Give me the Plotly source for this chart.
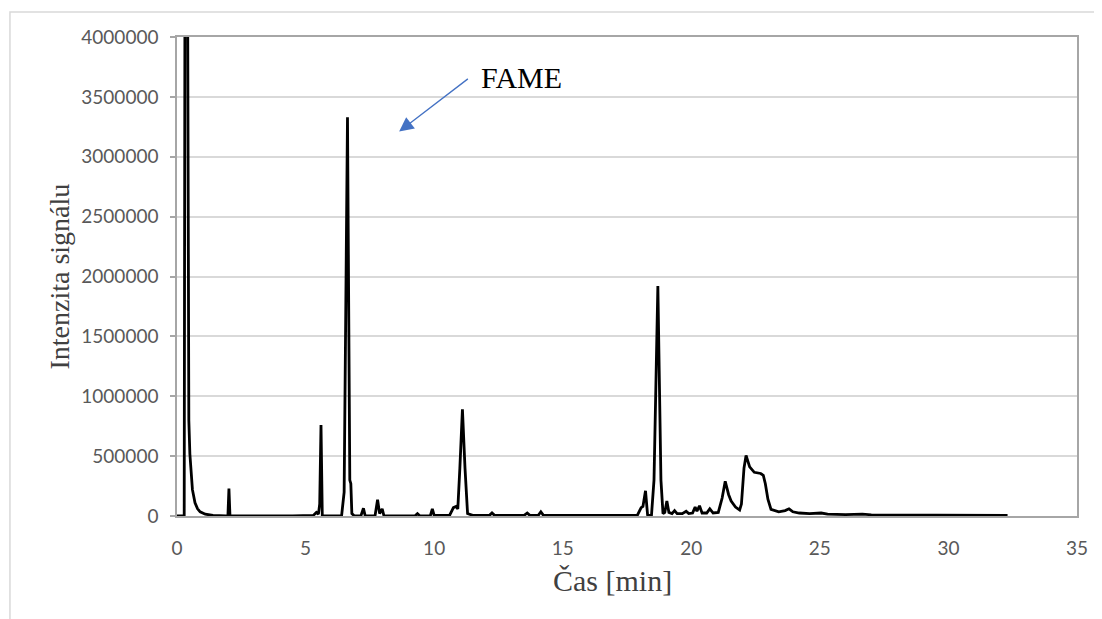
import plotly.graph_objects as go

# Chromatogram
time_min = [
    0.0, 0.28, 0.31, 0.41, 0.46, 0.50, 0.60, 0.70, 0.80, 0.90, 1.10, 1.40, 1.90,
    1.98, 2.02, 2.06,
    4.50, 5.30, 5.42, 5.50, 5.55, 5.60, 5.65, 6.00,
    6.40, 6.50, 6.63, 6.72, 6.76, 6.80, 6.90,
    7.15, 7.25, 7.32, 7.70, 7.80, 7.88, 7.98, 8.05,
    9.25, 9.35, 9.45, 9.85, 9.93, 10.00,
    10.60, 10.75, 10.85, 10.92, 11.00, 11.10, 11.20, 11.30, 11.50,
    12.15, 12.25, 12.35, 13.50, 13.62, 13.72, 14.05, 14.15, 14.25,
    16.50, 17.90, 18.05, 18.12, 18.22, 18.30, 18.45, 18.55, 18.70, 18.82, 18.90,
    18.97, 19.05, 19.13, 19.25, 19.35, 19.45, 19.65, 19.80, 19.90,
    20.05, 20.15, 20.22, 20.32, 20.42, 20.60, 20.72, 20.85,
    21.05, 21.20, 21.32, 21.45, 21.55, 21.72, 21.88,
    21.95, 22.05, 22.13, 22.27, 22.45, 22.70, 22.80, 22.88, 22.98, 23.10,
    23.40, 23.65, 23.80, 23.95, 24.20, 24.60, 25.05, 25.30, 26.00, 26.65,
    27.00, 28.00, 29.10, 29.50, 32.30,
]
intensity = [
    0, 0, 4600000, 4600000, 800000, 520000, 220000, 110000, 60000, 35000, 15000, 5000, 0,
    0, 230000, 0,
    0, 5000, 30000, 15000, 100000, 760000, 0, 0,
    0, 200000, 3330000, 300000, 270000, 20000, 0,
    0, 65000, 0, 0, 135000, 20000, 60000, 0,
    0, 20000, 0, 0, 60000, 5000,
    5000, 70000, 80000, 60000, 400000, 890000, 400000, 20000, 5000,
    5000, 25000, 5000, 5000, 25000, 5000, 5000, 35000, 5000,
    5000, 5000, 70000, 80000, 210000, 10000, 0, 300000, 1920000, 300000, 20000,
    30000, 125000, 30000, 20000, 45000, 20000, 20000, 40000, 20000,
    25000, 75000, 40000, 85000, 25000, 25000, 60000, 25000,
    30000, 150000, 290000, 180000, 125000, 75000, 50000,
    100000, 400000, 505000, 410000, 365000, 355000, 340000, 270000, 140000, 55000,
    35000, 45000, 60000, 35000, 25000, 20000, 25000, 15000, 12000, 16000,
    10000, 8000, 12000, 8000, 5000,
]

x_ticks = [0, 5, 10, 15, 20, 25, 30, 35]
y_ticks = [0, 500000, 1000000, 1500000, 2000000, 2500000, 3000000, 3500000, 4000000]

x_title = "Čas [min]"
y_title = "Intenzita signálu"
label_text = "FAME"

fig = go.Figure()
fig.add_trace(go.Scatter(
    x=time_min, y=intensity, mode="lines",
    line=dict(color="black", width=2.8),
    showlegend=False, hoverinfo="skip",
))

tick_font = dict(family="Lato, Liberation Sans, sans-serif", size=19, color="#595959")
serif = "Liberation Serif, Times New Roman, serif"

fig.update_layout(
    width=1094, height=611,
    margin=dict(l=169, r=25, t=29, b=103),
    paper_bgcolor="white", plot_bgcolor="white",
    xaxis=dict(
        range=[0, 35], tickvals=x_ticks, ticktext=[str(v) for v in x_ticks],
        showgrid=False, zeroline=False,
        showline=True, linecolor="#a6a6a6", linewidth=1.5, mirror=True,
        ticks="", tickfont=tick_font, ticklabelstandoff=14,
    ),
    yaxis=dict(
        range=[0, 4000000], tickvals=y_ticks, ticktext=[str(v) for v in y_ticks],
        showgrid=True, gridcolor="#d9d9d9", gridwidth=1.5, zeroline=False,
        showline=True, linecolor="#a6a6a6", linewidth=1.5, mirror=True,
        ticks="outside", ticklen=5, tickcolor="#a6a6a6", tickwidth=1.5,
        tickfont=tick_font, ticklabelstandoff=8,
    ),
    shapes=[dict(
        type="rect", xref="paper", yref="paper",
        x0=-0.1856, x1=1.2, y0=-0.5, y1=1.052,
        line=dict(color="#d9d9d9", width=1.5), fillcolor="rgba(0,0,0,0)",
        layer="below",
    )],
    annotations=[
        dict(text=y_title, xref="paper", yref="paper", x=0, y=0.5,
             xanchor="center", yanchor="middle", xshift=-118, textangle=-90,
             showarrow=False, font=dict(family=serif, size=28, color="#404040")),
        dict(text=x_title, xref="paper", yref="paper", x=0.484, y=0,
             xanchor="center", yanchor="middle", yshift=-64,
             showarrow=False, font=dict(family=serif, size=30, color="#404040")),
        dict(text=label_text, xref="x", yref="y", x=11.76, y=3660000,
             xanchor="left", yanchor="middle", showarrow=False,
             font=dict(family=serif, size=30, color="black")),
        dict(text="", xref="x", yref="y", x=8.64, y=3210000,
             ax=11.37, ay=3660000, axref="x", ayref="y",
             showarrow=True, arrowhead=2, arrowsize=2.2, arrowwidth=1.3,
             arrowcolor="#4472c4"),
    ],
)

fig.write_html("out.html")
